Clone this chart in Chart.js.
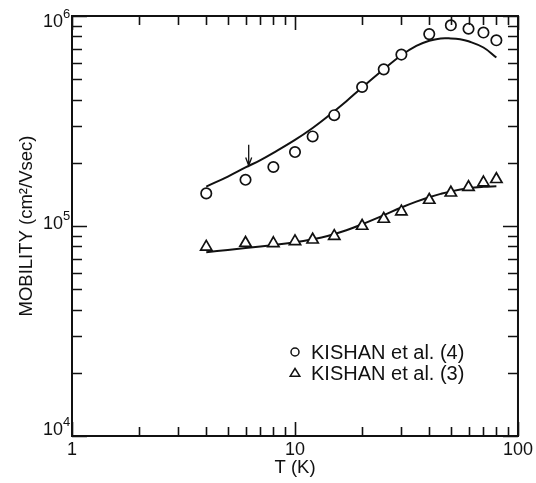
<!DOCTYPE html>
<html>
<head>
<meta charset="utf-8">
<script src="https://cdn.jsdelivr.net/npm/chart.js@4"></script>
<style>
  body { margin: 0; background: #fff; }
  canvas { display: block; }
</style>
</head>
<body>
<canvas id="mobility" width="536" height="483"></canvas>
<script>
// measured points, KISHAN et al. (4) - circles
var circT = [4, 6, 8, 10, 12, 15, 20, 25, 30, 40, 50, 60, 70, 80];
var circMob = [1.43e5, 1.66e5, 1.91e5, 2.25e5, 2.67e5, 3.37e5, 4.59e5, 5.57e5, 6.55e5, 8.2e5, 9.03e5, 8.7e5, 8.34e5, 7.66e5];

// KISHAN et al. (3) - triangles
var triT = [4, 6, 8, 10, 12, 15, 20, 25, 30, 40, 50, 60, 70, 80];
var triMob = [7.95e4, 8.3e4, 8.27e4, 8.45e4, 8.6e4, 8.95e4, 1.0e5, 1.08e5, 1.17e5, 1.33e5, 1.44e5, 1.53e5, 1.61e5, 1.67e5];

// fitted curves
var fitUpT = [4, 5, 6, 7, 8, 10, 12, 14, 17, 20, 25, 30, 35, 40, 45, 50, 55, 60, 70, 80];
var fitUpMob = [1.54e5, 1.72e5, 1.9e5, 2.06e5, 2.23e5, 2.57e5, 2.93e5, 3.32e5, 3.93e5, 4.57e5, 5.58e5, 6.5e5, 7.2e5, 7.62e5, 7.82e5, 7.82e5, 7.75e5, 7.58e5, 7.08e5, 6.34e5];
var fitLowT = [4, 5, 6, 7, 8, 10, 12, 14, 17, 20, 25, 30, 35, 40, 45, 50, 60, 70, 80];
var fitLowMob = [7.5e4, 7.69e4, 7.85e4, 7.98e4, 8.11e4, 8.36e4, 8.65e4, 8.97e4, 9.55e4, 1.02e5, 1.126e5, 1.225e5, 1.306e5, 1.371e5, 1.422e5, 1.462e5, 1.513e5, 1.537e5, 1.547e5];

// arrow marking T = 6.2 K on the upper curve
var arrowT = 6.2;
var arrowMob = [2.44e5, 1.94e5];

// tick positions and labels
var xTicks = [1, 2, 3, 4, 5, 6, 7, 8, 9, 10, 20, 30, 40, 50, 60, 70, 80, 90, 100];
var xLabels = { 1: '1', 10: '10', 100: '100' };
var yTicks = [1e4, 2e4, 3e4, 4e4, 5e4, 6e4, 7e4, 8e4, 9e4, 1e5, 2e5, 3e5, 4e5, 5e5, 6e5, 7e5, 8e5, 9e5, 1e6];
var yMajor = [1e4, 1e5, 1e6];
var yExp = ['4', '5', '6'];

function pts(xs, ys) {
    return xs.map(function (x, i) { return { x: x, y: ys[i] }; });
}
function isMajor(v) {
    var l = Math.log10(v);
    return Math.abs(l - Math.round(l)) < 1e-9;
}

var font = "'Liberation Sans', Arial, sans-serif";
var ink = '#111';

// frame, inward tick marks, y labels with exponents, arrow and legend
var decor = {
    id: 'decor',
    afterDraw: function (chart) {
        var ctx = chart.ctx;
        var a = chart.chartArea;
        var xs = chart.scales.x, ys = chart.scales.y;
        ctx.save();
        ctx.strokeStyle = ink;
        ctx.fillStyle = ink;
        ctx.lineWidth = 1.6;
        ctx.beginPath();
        xTicks.forEach(function (v) {
            var px = Math.round(xs.getPixelForValue(v)) + 0.5;
            var len = isMajor(v) ? 14 : 9;
            ctx.moveTo(px, a.bottom); ctx.lineTo(px, a.bottom - len);
            ctx.moveTo(px, a.top); ctx.lineTo(px, a.top + len);
        });
        yTicks.forEach(function (v) {
            var py = Math.round(ys.getPixelForValue(v)) + 0.5;
            var len = isMajor(v) ? 15 : 10;
            ctx.moveTo(a.left, py); ctx.lineTo(a.left + len, py);
            ctx.moveTo(a.right, py); ctx.lineTo(a.right - len, py);
        });
        ctx.stroke();
        ctx.lineWidth = 2;
        ctx.strokeRect(a.left, a.top, a.right - a.left, a.bottom - a.top);

        // y tick labels: 10 with raised exponent
        ctx.textBaseline = 'middle';
        yMajor.forEach(function (v, i) {
            var py = ys.getPixelForValue(v);
            var my = Math.min(Math.max(py - 2, 22), a.bottom - 6);
            ctx.textAlign = 'right';
            ctx.font = '18px ' + font;
            ctx.fillText('10', a.left - 9, my);
            ctx.textAlign = 'left';
            ctx.font = '13px ' + font;
            ctx.fillText(yExp[i], a.left - 9, my - 8);
        });

        // arrow
        var ax = xs.getPixelForValue(arrowT);
        var y0 = ys.getPixelForValue(arrowMob[0]);
        var y1 = ys.getPixelForValue(arrowMob[1]);
        ctx.lineWidth = 1.3;
        ctx.beginPath();
        ctx.moveTo(ax, y0); ctx.lineTo(ax, y1);
        ctx.moveTo(ax - 3, y1 - 8); ctx.lineTo(ax, y1); ctx.lineTo(ax + 3, y1 - 8);
        ctx.stroke();

        // legend
        ctx.font = '20px ' + font;
        ctx.textAlign = 'left';
        ctx.lineWidth = 1.5;
        var lx = 295, ly = [352, 373];
        ctx.beginPath();
        ctx.arc(lx, ly[0], 4, 0, Math.PI * 2);
        ctx.stroke();
        ctx.beginPath();
        ctx.moveTo(lx, ly[1] - 4.5);
        ctx.lineTo(lx + 4.8, ly[1] + 3.2);
        ctx.lineTo(lx - 4.8, ly[1] + 3.2);
        ctx.closePath();
        ctx.stroke();
        ctx.fillText(chart.data.datasets[0].label, 311, ly[0] + 1);
        ctx.fillText(chart.data.datasets[1].label, 311, ly[1] + 1);
        ctx.restore();
    }
};

var ctx = document.getElementById('mobility').getContext('2d');
var mobilityChart = new Chart(ctx, {
    type: 'scatter',
    data: {
        datasets: [{
            label: 'KISHAN et al. (4)',
            data: pts(circT, circMob),
            pointStyle: 'circle',
            pointRadius: 5.2,
            pointBorderWidth: 1.7,
            borderColor: ink,
            backgroundColor: '#fff'
        }, {
            label: 'KISHAN et al. (3)',
            data: pts(triT, triMob),
            pointStyle: 'triangle',
            pointRadius: 6.5,
            pointBorderWidth: 1.7,
            borderColor: ink,
            backgroundColor: '#fff'
        }, {
            label: 'fit upper',
            data: pts(fitUpT, fitUpMob),
            showLine: true,
            pointRadius: 0,
            borderColor: ink,
            borderWidth: 2,
            tension: 0.4
        }, {
            label: 'fit lower',
            data: pts(fitLowT, fitLowMob),
            showLine: true,
            pointRadius: 0,
            borderColor: ink,
            borderWidth: 2,
            tension: 0.4
        }]
    },
    options: {
        responsive: false,
        animation: false,
        layout: { padding: { left: 0, right: 18, top: 16, bottom: 0 } },
        plugins: {
            legend: { display: false },
            tooltip: { enabled: false }
        },
        scales: {
            x: {
                type: 'logarithmic',
                min: 1,
                max: 100,
                afterFit: function (scale) { scale.height = 47; },
                afterBuildTicks: function (scale) {
                    scale.ticks = xTicks.map(function (v) { return { value: v }; });
                },
                grid: { display: false, drawTicks: false },
                border: { display: false },
                ticks: {
                    autoSkip: false,
                    maxRotation: 0,
                    padding: 3,
                    color: ink,
                    font: { family: font, size: 18 },
                    callback: function (v) { return xLabels[v] || ''; }
                },
                title: {
                    display: true,
                    text: 'T (K)',
                    color: ink,
                    font: { family: font, size: 18.5 },
                    padding: { top: 0, bottom: 4 }
                }
            },
            y: {
                type: 'logarithmic',
                min: 1e4,
                max: 1e6,
                afterFit: function (scale) { scale.width = 72; },
                afterBuildTicks: function (scale) {
                    scale.ticks = yTicks.map(function (v) { return { value: v }; });
                },
                grid: { display: false, drawTicks: false },
                border: { display: false },
                ticks: {
                    autoSkip: false,
                    padding: 4,
                    callback: function () { return ''; }
                },
                title: {
                    display: true,
                    text: 'MOBILITY (cm\u00b2/Vsec)',
                    color: ink,
                    font: { family: font, size: 18.5 },
                    padding: { top: 16, bottom: 0 }
                }
            }
        }
    },
    plugins: [decor]
});
</script>
</body>
</html>
